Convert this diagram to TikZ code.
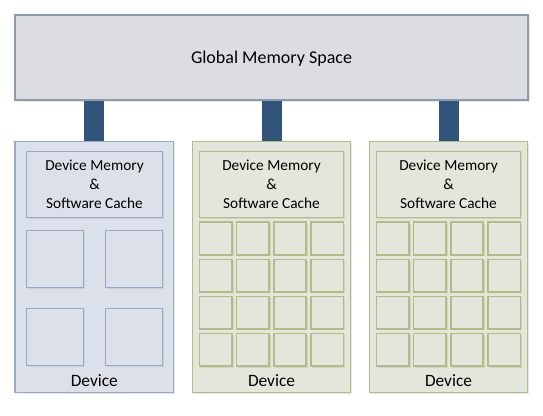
\documentclass[tikz,border=0pt]{standalone}
\usepackage{fontspec}
\setmainfont{Carlito}
\usepackage{xcolor}
\usetikzlibrary{positioning,shadows}
\definecolor{globfill}{HTML}{DCDDE1}
\definecolor{globline}{HTML}{8C9BB0}
\definecolor{bluefill}{HTML}{DCE1E9}
\definecolor{blueline}{HTML}{97AACB}
\definecolor{greenfill}{HTML}{E3E6DA}
\definecolor{greenline}{HTML}{AEBE84}
\definecolor{buscol}{HTML}{31557A}
\newcommand{\px}{0.75pt}
\tikzset{
  box/.style={rectangle, draw, line width=1.2*\px, inner sep=0pt,
    drop shadow={opacity=0.18, shadow xshift=1.5*\px, shadow yshift=-1.5*\px}},
  globbox/.style={box, fill=globfill, draw=globline, minimum width=513*\px, minimum height=85*\px,
    text depth=0pt, font=\fontsize{13.5}{16}\selectfont},
  devbox/.style={box, minimum width=158.5*\px, minimum height=250.6*\px},
  membox/.style={box, minimum height=65.6*\px, align=center,
    font=\fontsize{11.5}{14.25}\selectfont},
  corebox/.style={box, minimum size=#1*\px},
  devlabel/.style={font=\fontsize{13}{15}\selectfont},
  bus/.style={draw=buscol, line width=20*\px},
}

\begin{document}
\begin{tikzpicture}[x=\px, y=-\px]
  \useasboundingbox (0,0) rectangle (543,415);

  % global memory
  \node[globbox] (glob) at (271.5,57.5) {Global Memory Space};

  % device with few large cores
  \node[devbox, fill=bluefill, draw=blueline] (dev1) at (94.3,267) {};
  \node[membox, fill=bluefill, draw=blueline, minimum width=136.4*\px] (mem1) at (94.5,184.5)
    {Device Memory\\\&\\Software Cache};
  \foreach \i/\cx in {1/55,2/134}
    \foreach \j/\cy in {1/258.7,2/337.2}
      \node[corebox=57, fill=bluefill, draw=blueline] (core1-\i-\j) at (\cx,\cy) {};
  \node[devlabel] (lab1) at (94.3,380.7) {Device};

  % devices with many small cores
  \foreach \d/\dx in {2/271.5,3/448.5} {
    \node[devbox, fill=greenfill, draw=greenline] (dev\d) at (\dx,267) {};
    \node[membox, fill=greenfill, draw=greenline, minimum width=144*\px] (mem\d) at (\dx,184.5)
      {Device Memory\\\&\\Software Cache};
    \foreach \i in {0,...,3}
      \foreach \j in {0,...,3}
        \node[corebox=32.5, fill=greenfill, draw=greenline, line width=1.6*\px] (core\d-\i-\j)
          at (\dx-55.7+37.1*\i, 238.5+37.1*\j) {};
    \node[devlabel] (lab\d) at (\dx,380.7) {Device};
  }

  % links to global memory
  \foreach \d in {1,2,3}
    \draw[bus] (dev\d.north) -- (dev\d.north |- glob.south);
\end{tikzpicture}
\end{document}
